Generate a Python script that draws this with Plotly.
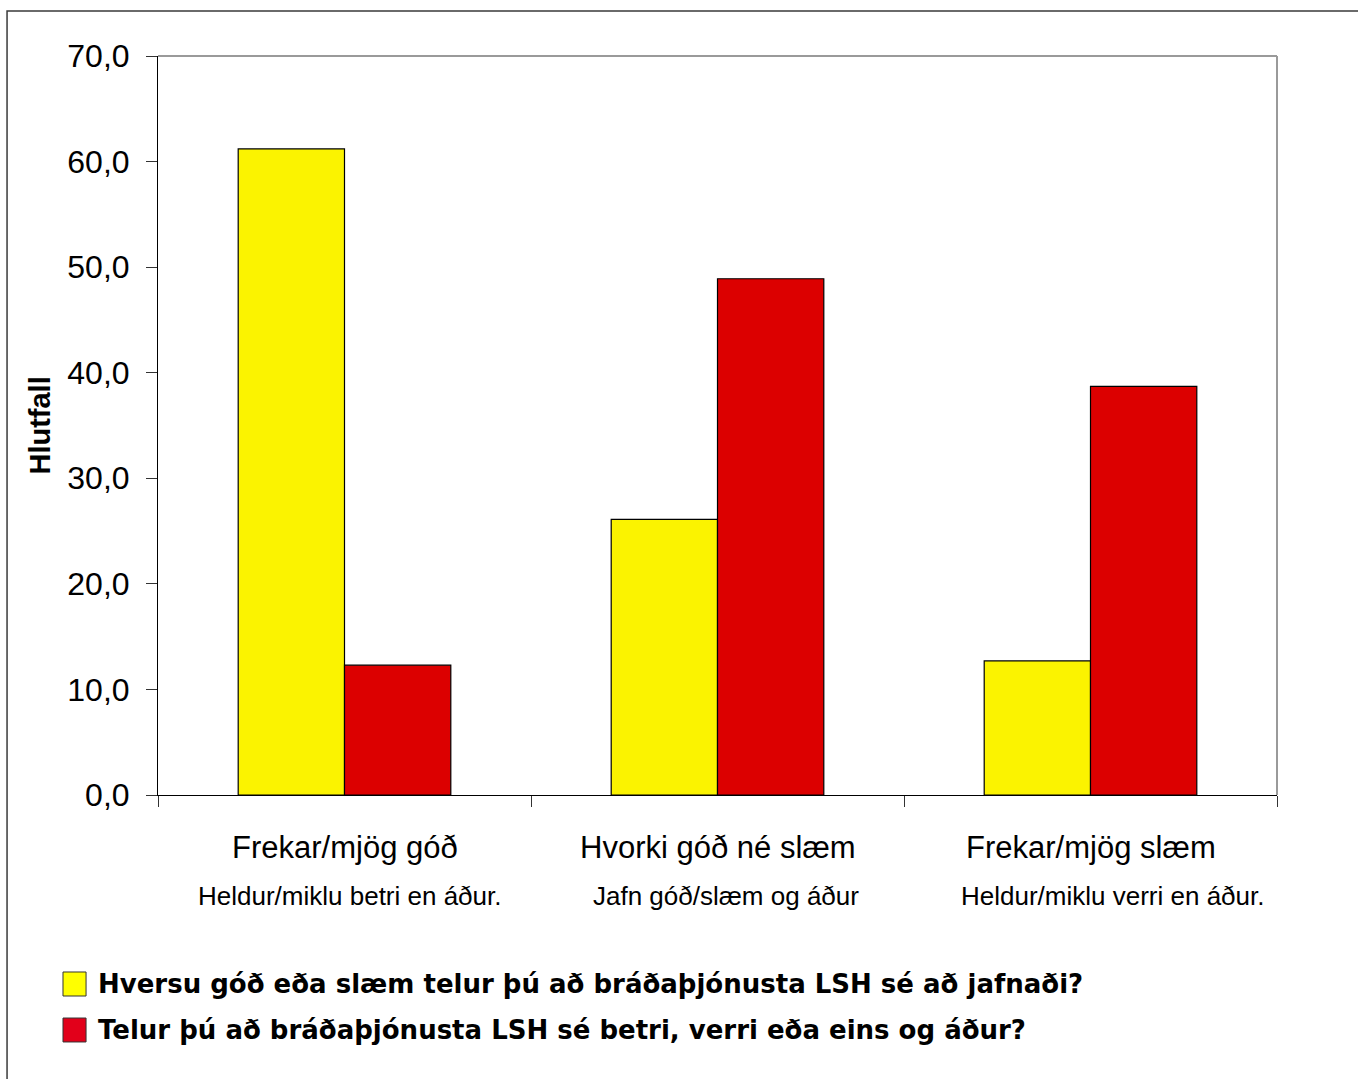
import plotly.graph_objects as go

# Survey answers (percent) for two questions about LSH emergency services
categories = ["Frekar/mjög góð", "Hvorki góð né slæm", "Frekar/mjög slæm"]
subtitles = ["Heldur/miklu betri en áður.", "Jafn góð/slæm og áður", "Heldur/miklu verri en áður."]
series_names = [
    "Hversu góð eða slæm telur þú að bráðaþjónusta LSH sé að jafnaði?",
    "Telur þú að bráðaþjónusta LSH sé betri, verri eða eins og áður?",
]
general_quality = [61.2, 26.1, 12.7]
compared_to_before = [12.3, 48.9, 38.7]

y_ticks = [0, 10, 20, 30, 40, 50, 60, 70]

NARROW = "Liberation Sans Narrow, Arial Narrow, Liberation Sans, Arial, sans-serif"
WIDE = "DejaVu Sans, Verdana, sans-serif"

bar_colors = ["#FBF300", "#DC0000"]
legend_colors = ["#FFFF00", "#E2001A"]

fig = go.Figure()
for name, vals, col in zip(series_names, [general_quality, compared_to_before], bar_colors):
    fig.add_trace(go.Bar(
        x=categories, y=vals, name=name,
        marker=dict(color=col, line=dict(color="#000000", width=1.2)),
        showlegend=False,
    ))

fig.update_layout(
    width=1358, height=1079,
    margin=dict(l=158, r=81, t=56, b=284),
    paper_bgcolor="white", plot_bgcolor="white",
    separators=", ",
    barmode="group", bargap=0.43, bargroupgap=0,
    font=dict(family=NARROW, color="#000000"),
)

fig.update_yaxes(
    range=[0, 70], tickvals=y_ticks, tickformat=".1f",
    showgrid=False, zeroline=False,
    showline=True, linecolor="#000000", linewidth=1,
    ticks="outside", ticklen=11, tickcolor="#333333", tickwidth=1,
    tickfont=dict(family=NARROW, size=32),
    ticklabelstandoff=10,
)
fig.update_xaxes(
    showgrid=False, zeroline=False,
    showline=True, linecolor="#000000", linewidth=1,
    ticks="outside", ticklen=11, tickcolor="#333333", tickwidth=1,
    tickson="boundaries", showticklabels=False,
)

# plot-area frame (top/right in grey) and outer chart frame
fig.add_shape(type="line", xref="paper", yref="paper", x0=0, x1=1, y0=1, y1=1,
              line=dict(color="#9a9a9a", width=2))
fig.add_shape(type="line", xref="paper", yref="paper", x0=1, x1=1, y0=0, y1=1,
              line=dict(color="#9a9a9a", width=2))
fig.add_shape(type="rect", xref="paper", yref="paper", x0=-0.1349, x1=1.3, y0=-0.6, y1=1.0609,
              line=dict(color="#3a3a3a", width=1.5))

# category labels with their secondary line
for cat, sub, shift in zip(categories, subtitles, [5, 8, 22]):
    fig.add_annotation(x=cat, y=-0.0717, xref="x", yref="paper", text=cat,
                       showarrow=False, yanchor="middle",
                       font=dict(family=NARROW, size=31))
    fig.add_annotation(x=cat, y=-0.1367, xref="x", yref="paper", text=sub,
                       showarrow=False, yanchor="middle", xshift=shift,
                       font=dict(family=NARROW, size=26))

# y-axis title
fig.add_annotation(x=-0.1063, y=0.5, xref="paper", yref="paper", text="<b>Hlutfall</b>",
                   textangle=-90, showarrow=False, xanchor="center", yanchor="middle",
                   font=dict(family=NARROW, size=29))

# legend drawn as swatches plus labels
legend_rows = [(-0.2395, -0.272), (-0.3018, -0.3342)]
for (y0, y1), name, col in zip(legend_rows, series_names, legend_colors):
    fig.add_shape(type="rect", xref="paper", yref="paper", x0=-0.0849, x1=-0.0643,
                  y0=y1, y1=y0, fillcolor=col, line=dict(color="#333333", width=1))
    fig.add_annotation(x=-0.0554, y=(y0 + y1) / 2, xref="paper", yref="paper",
                       text="<b>" + name + "</b>", showarrow=False,
                       xanchor="left", yanchor="middle",
                       font=dict(family=WIDE, size=26))

fig.write_html("out.html")
